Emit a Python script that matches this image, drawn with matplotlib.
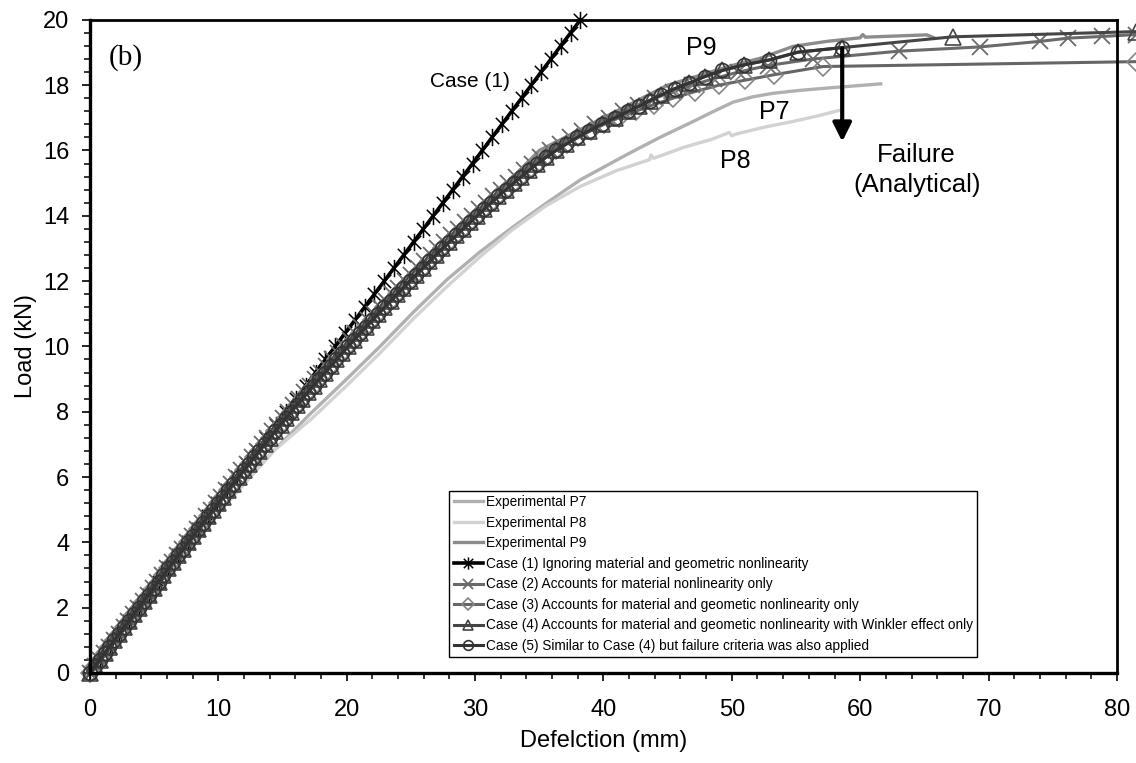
import matplotlib
matplotlib.use('Agg')
import matplotlib.pyplot as plt
from matplotlib.path import Path
from matplotlib.ticker import MultipleLocator

plt.rcParams['font.family'] = ['Liberation Sans', 'DejaVu Sans']

# ---- experimental curves (deflection mm, load kN) ----
p7_defl = [0, 2.0, 6.1, 10.2, 14.3, 17.2, 20.0, 22.6, 25.2, 27.8, 30.4, 33.0, 35.6, 38.2, 41.8,
           44.4, 47.0, 48.6, 50.1, 51.6, 53.2, 55.3, 57.4, 61.6]
p7_load = [0, 1.0, 3.0, 5.0, 6.8, 7.95, 9.0, 10.0, 11.05, 12.04, 12.9, 13.67, 14.4, 15.1, 15.87,
           16.4, 16.89, 17.2, 17.48, 17.64, 17.75, 17.84, 17.91, 18.04]

p8_defl = [0, 2.0, 6.1, 10.2, 14.3, 17.3, 20.0, 22.6, 25.2, 27.8, 30.4, 32.9, 35.5, 38.2, 41.0,
           43.6, 43.7, 43.9, 46.3, 48.5, 49.8, 50.0, 50.3, 52.6, 54.8, 56.7, 58.5]
p8_load = [0, 1.0, 3.0, 5.0, 6.8, 7.8, 8.8, 9.8, 10.85, 11.83, 12.75, 13.57, 14.3, 14.9, 15.38,
           15.72, 15.86, 15.76, 16.1, 16.35, 16.55, 16.45, 16.5, 16.72, 16.89, 17.06, 17.24]

p9_defl = [0, 4.0, 8.0, 12.0, 16.0, 20.0, 25.0, 30.0, 35.0, 40.0, 45.0, 50.0, 52.2, 54.8, 57.4,
           60.0, 60.2, 60.4, 65.2, 65.7]
p9_load = [0, 2.0, 4.1, 6.2, 8.2, 10.0, 12.0, 14.0, 16.0, 17.0, 18.0, 18.6, 18.82, 19.19, 19.34,
           19.45, 19.55, 19.47, 19.54, 19.46]

# ---- case (1): linear analysis ----
case1_load = [0, 0.4, 0.8, 1.2, 1.6, 2.0, 2.4, 2.8, 3.2, 3.6, 4.0, 4.4, 4.8, 5.2, 5.6, 6.0, 6.4,
              6.8, 7.2, 7.6, 8.0, 8.4, 8.8, 9.2, 9.6, 10.0, 10.4, 10.8, 11.2, 11.6, 12.0, 12.4,
              12.8, 13.2, 13.6, 14.0, 14.4, 14.8, 15.2, 15.6, 16.0, 16.4, 16.8, 17.2, 17.6, 18.0,
              18.4, 18.8, 19.2, 19.6, 20.0]
case1_defl = [0, 0.76, 1.53, 2.29, 3.06, 3.82, 4.58, 5.35, 6.11, 6.88, 7.64, 8.40, 9.17, 9.93,
              10.70, 11.46, 12.22, 12.99, 13.75, 14.52, 15.28, 16.04, 16.81, 17.57, 18.34, 19.10,
              19.86, 20.63, 21.39, 22.16, 22.92, 23.68, 24.45, 25.21, 25.98, 26.74, 27.50, 28.27,
              29.03, 29.80, 30.56, 31.32, 32.09, 32.85, 33.62, 34.38, 35.14, 35.91, 36.67, 37.44, 38.20]

# load steps shared by the nonlinear cases up to 17 kN
steps = [0, 0.2, 0.4, 0.6, 0.8, 1.0, 1.2, 1.4, 1.6, 1.8, 2.0, 2.2, 2.4, 2.6, 2.8, 3.0, 3.2, 3.4,
         3.6, 3.8, 4.0, 4.2, 4.4, 4.6, 4.8, 5.0, 5.2, 5.4, 5.6, 5.8, 6.0, 6.2, 6.4, 6.6, 6.8, 7.0,
         7.2, 7.4, 7.6, 7.8, 8.0, 8.2, 8.4, 8.6, 8.8, 9.0, 9.2, 9.4, 9.6, 9.8, 10.0, 10.2, 10.4,
         10.6, 10.8, 11.0, 11.2, 11.4, 11.6, 11.8, 12.0, 12.2, 12.4, 12.6, 12.8, 13.0, 13.2, 13.4,
         13.6, 13.8, 14.0, 14.2, 14.4, 14.6, 14.8, 15.0, 15.2, 15.4, 15.6, 15.8, 16.0, 16.2, 16.4,
         16.6, 16.8, 17.0]

# ---- case (5): material + geometric + Winkler, with failure ----
case5_defl = [0, 0.38, 0.76, 1.14, 1.52, 1.90, 2.28, 2.66, 3.04, 3.42, 3.80, 4.18, 4.57, 4.95,
              5.34, 5.72, 6.11, 6.49, 6.88, 7.26, 7.65, 8.04, 8.43, 8.82, 9.21, 9.60, 10.00,
              10.39, 10.79, 11.18, 11.58, 11.98, 12.39, 12.79, 13.20, 13.60, 14.02, 14.43, 14.85,
              15.26, 15.68, 16.11, 16.55, 16.98, 17.42, 17.85, 18.30, 18.75, 19.20, 19.65, 20.10,
              20.57, 21.04, 21.51, 21.98, 22.45, 22.94, 23.43, 23.92, 24.41, 24.90, 25.41, 25.92,
              26.43, 26.94, 27.45, 27.99, 28.53, 29.07, 29.61, 30.15, 30.70, 31.25, 31.82, 32.40,
              33.00, 33.60, 34.22, 34.86, 35.55, 36.30, 37.10, 37.95, 38.85, 39.85, 40.90,
              41.95, 42.75, 43.6, 44.5, 45.54, 46.65, 47.88, 49.25, 50.94, 52.9, 55.15, 58.6]
case5_load = steps + [17.2, 17.35, 17.52, 17.70, 17.89, 18.06, 18.26, 18.45, 18.62, 18.77, 19.01, 19.15]

# ---- case (4): same path, no failure cut-off ----
case4_defl = case5_defl + [67.2, 81.5]
case4_load = case5_load + [19.48, 19.64]

# ---- case (3): material + geometric ----
case3_defl = case5_defl[:81] + [37.15, 38.05, 39.0, 40.05, 41.2, 42.5, 43.9, 45.4, 47.1, 49.0,
                                51.0, 53.3, 57.1, 81.5]
case3_load = steps[:81] + [16.2, 16.4, 16.6, 16.8, 17.0, 17.2, 17.4, 17.6, 17.8, 18.0,
                           18.15, 18.32, 18.57, 18.72]

# ---- case (2): material only ----
case2_defl = [0, 0.37, 0.75, 1.12, 1.50, 1.87, 2.25, 2.62, 3.00, 3.37, 3.75, 4.12, 4.50, 4.88,
              5.26, 5.64, 6.02, 6.40, 6.78, 7.16, 7.54, 7.92, 8.31, 8.69, 9.07, 9.46, 9.85,
              10.24, 10.63, 11.02, 11.41, 11.80, 12.20, 12.59, 12.99, 13.39, 13.79, 14.20, 14.60,
              15.01, 15.42, 15.84, 16.26, 16.68, 17.11, 17.54, 17.98, 18.42, 18.86, 19.31, 19.76,
              20.22, 20.68, 21.15, 21.62, 22.09, 22.57, 23.05, 23.54, 24.03, 24.52, 25.02, 25.52,
              26.03, 26.54, 27.06, 27.59, 28.12, 28.66, 29.20, 29.75, 30.30, 30.86, 31.43, 32.00,
              32.59, 33.19, 33.80, 34.43, 35.09, 35.80, 36.58, 37.42, 38.33, 39.33, 40.40,
              41.5, 42.7, 44.0, 45.4, 46.9, 48.6, 50.5, 52.8, 56.3, 63.0, 69.3, 74.0, 76.2, 78.8, 81.5]
case2_load = steps + [17.2, 17.4, 17.6, 17.8, 18.0, 18.2, 18.4, 18.6, 18.8, 19.04, 19.17, 19.34,
                      19.44, 19.49, 19.55]

# excel-like star: an X with a vertical bar
star = Path([(-1, -1), (1, 1), (-1, 1), (1, -1), (0, -1.3), (0, 1.3)],
            [Path.MOVETO, Path.LINETO, Path.MOVETO, Path.LINETO, Path.MOVETO, Path.LINETO])

fig = plt.figure(figsize=(11.36, 7.63), dpi=100)
ax = fig.add_axes([0.0792, 0.118, 0.904, 0.856])

ax.plot(p7_defl, p7_load, color='#b0b0b0', lw=2.4, label='Experimental P7', clip_on=False)
ax.plot(p8_defl, p8_load, color='#d2d2d2', lw=2.4, label='Experimental P8', clip_on=False)
ax.plot(p9_defl, p9_load, color='#8c8c8c', lw=2.4, label='Experimental P9', clip_on=False)
ax.plot(case1_defl, case1_load, color='black', lw=2.6, marker=star, ms=12.5, mew=1.1,
        label='Case (1) Ignoring material and geometric nonlinearity', clip_on=False)
ax.plot(case2_defl, case2_load, color='#6a6a6a', lw=2.2, marker='x', ms=11, mew=1.3,
        label='Case (2) Accounts for material nonlinearity only', clip_on=False)
ax.plot(case3_defl, case3_load, color='#666666', lw=2.2, marker='D', ms=9, mew=1.2,
        mfc='none', mec='#858585',
        label='Case (3) Accounts for material and geometic nonlinearity only', clip_on=False)
ax.plot(case4_defl, case4_load, color='#454545', lw=2.2, marker='^', ms=11, mew=1.2, mfc='none',
        label='Case (4) Accounts for material and geometic nonlinearity with Winkler effect only',
        clip_on=False)
ax.plot(case5_defl, case5_load, color='#333333', lw=2.2, marker='o', ms=10, mew=1.2, mfc='none',
        label='Case (5) Similar to Case (4) but failure criteria was also applied', clip_on=False)

ax.set_xlim(0, 80)
ax.set_ylim(0, 20)
ax.xaxis.set_major_locator(MultipleLocator(10))
ax.xaxis.set_minor_locator(MultipleLocator(2))
ax.yaxis.set_major_locator(MultipleLocator(2))
ax.yaxis.set_minor_locator(MultipleLocator(0.4))
ax.tick_params(which='major', direction='out', length=6, width=1.2, labelsize=17)
ax.tick_params(which='minor', direction='out', length=4.5, width=1.1)
ax.tick_params(axis='x', which='major', pad=13)
ax.tick_params(axis='y', which='major', pad=9)

for side in ['left', 'bottom']:
    ax.spines[side].set_linewidth(2.4)
for side in ['top', 'right']:
    ax.spines[side].set_linewidth(2.0)

ax.set_xlabel('Defelction (mm)', fontsize=17, labelpad=6)
ax.set_ylabel('Load (kN)', fontsize=17, labelpad=4)

ax.text(1.5, 18.85, '(b)', fontsize=21, family='Liberation Serif', va='center', ha='left')
ax.text(29.6, 18.1, 'Case (1)', fontsize=15, ha='center', va='center')
ax.text(47.6, 19.13, 'P9', fontsize=18, ha='center', va='center')
ax.text(53.3, 17.19, 'P7', fontsize=18, ha='center', va='center')
ax.text(50.3, 15.69, 'P8', fontsize=18, ha='center', va='center')
ax.text(64.4, 15.4, 'Failure\n(Analytical)', fontsize=18.5, ha='center', va='center',
        linespacing=1.3)
ax.annotate('', xy=(58.6, 16.27), xytext=(58.6, 19.13),
            arrowprops=dict(arrowstyle='-|>', lw=3, color='black', mutation_scale=28,
                            shrinkA=0, shrinkB=0))

leg = ax.legend(loc='lower right', bbox_to_anchor=(0.864, 0.0245), fontsize=9.8,
                frameon=True, fancybox=False, edgecolor='black', framealpha=1,
                handlelength=2.2, handletextpad=0.2, labelspacing=0.48, borderpad=0.3,
                borderaxespad=0, markerscale=0.7)
leg.get_frame().set_linewidth(1.0)

fig.savefig('out.png', dpi=100)
